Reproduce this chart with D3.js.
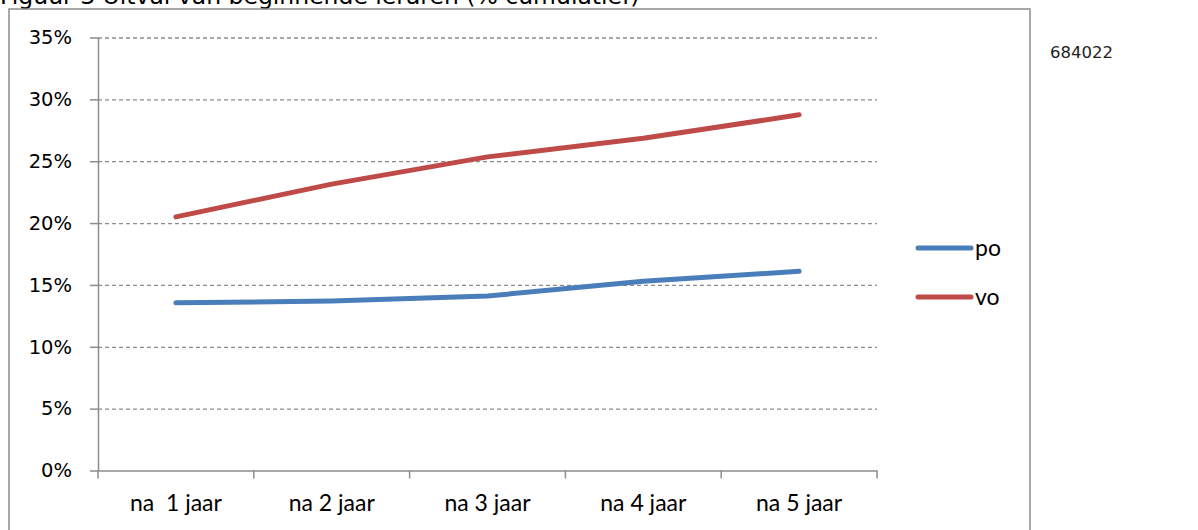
<!DOCTYPE html>
<html>
<head>
<meta charset="utf-8">
<script src="https://cdn.jsdelivr.net/npm/d3@7"></script>
<style>
  body { margin: 0; background: #fff; }
  svg { display: block; }
  .grid line { stroke: #8c8c8c; stroke-dasharray: 4,3; stroke-width: 1.3; }
  .grid path { display: none; }
  .axis path, .axis line { stroke: #8c8c8c; stroke-width: 1.5; }
  .y-axis text { font-family: "DejaVu Sans", sans-serif; font-size: 19.5px; fill: #000; }
  .x-axis text { font-family: Lato, sans-serif; font-size: 23px; fill: #000; white-space: pre; }
  .legend text { font-family: Lato, sans-serif; font-size: 23px; fill: #000; }
</style>
</head>
<body>
<div id="chart"></div>
<script>
// chart data
var categories = ["na  1 jaar", "na 2 jaar", "na 3 jaar", "na 4 jaar", "na 5 jaar"];
var poValues = [13.55, 13.7, 14.1, 15.3, 16.1];
var voValues = [20.5, 23.15, 25.35, 26.85, 28.75];
var seriesNames = ["po", "vo"];
var yTicks = [0, 5, 10, 15, 20, 25, 30, 35];

var svgWidth = 1198;
var svgHeight = 530;

var margin = { top: 37.5, left: 98, right: 321, bottom: 59.5 };
var width = svgWidth - margin.left - margin.right;
var height = svgHeight - margin.top - margin.bottom;

var svg = d3.select("#chart")
  .append("svg")
  .attr("width", svgWidth)
  .attr("height", svgHeight);

// title, mostly cut off at the top edge
svg.append("text")
  .attr("x", 0)
  .attr("y", 4)
  .attr("font-family", "DejaVu Sans, sans-serif")
  .attr("font-size", 23.5)
  .text("Figuur 3 Uitval van beginnende leraren (% cumulatief)");

// outer frame
svg.append("rect")
  .attr("x", 9)
  .attr("y", 9)
  .attr("width", 1021)
  .attr("height", 540)
  .attr("fill", "none")
  .attr("stroke", "#8c8c8c")
  .attr("stroke-width", 1.5);

svg.append("text")
  .attr("x", 1050)
  .attr("y", 58)
  .attr("font-family", "DejaVu Sans, sans-serif")
  .attr("font-size", 16.5)
  .attr("fill", "#222")
  .text("684022");

var chartGroup = svg.append("g")
  .attr("transform", `translate(${margin.left}, ${margin.top})`);

var xScale = d3.scaleBand()
  .domain(categories)
  .range([0, width]);

var yScale = d3.scaleLinear()
  .domain([0, 35])
  .range([height, 0]);

// dashed gridlines
chartGroup.append("g")
  .attr("class", "grid")
  .call(d3.axisLeft(yScale).tickValues(yTicks.slice(1)).tickSize(-width).tickFormat(""));

// y axis
chartGroup.append("g")
  .attr("class", "axis y-axis")
  .call(d3.axisLeft(yScale).tickValues(yTicks).tickSize(8).tickSizeOuter(0).tickPadding(18)
    .tickFormat(d => d + "%"));

// x axis, ticks at the category boundaries
var xAxis = chartGroup.append("g")
  .attr("class", "axis x-axis")
  .attr("transform", `translate(0, ${height})`)
  .call(d3.axisBottom(xScale).tickSize(0).tickPadding(24));

var bounds = categories.map(c => xScale(c)).concat([width]);
xAxis.selectAll(".bound")
  .data(bounds)
  .enter()
  .append("line")
  .attr("class", "bound")
  .attr("x1", d => d)
  .attr("x2", d => d)
  .attr("y1", 0)
  .attr("y2", 8);

var colors = { po: "#4a7ebb", vo: "#be4b48" };
var seriesData = { po: poValues, vo: voValues };

var line = d3.line()
  .x((d, i) => xScale(categories[i]) + xScale.bandwidth() / 2)
  .y(d => yScale(d));

seriesNames.forEach(function(name) {
  chartGroup.append("path")
    .datum(seriesData[name])
    .attr("fill", "none")
    .attr("stroke", colors[name])
    .attr("stroke-width", 5)
    .attr("stroke-linecap", "round")
    .attr("stroke-linejoin", "round")
    .attr("d", line);
});

// legend
var legend = svg.append("g").attr("class", "legend");
seriesNames.forEach(function(name, i) {
  var y = 248 + i * 49;
  legend.append("line")
    .attr("x1", 918)
    .attr("x2", 971)
    .attr("y1", y)
    .attr("y2", y)
    .attr("stroke", colors[name])
    .attr("stroke-width", 5)
    .attr("stroke-linecap", "round");
  legend.append("text")
    .attr("x", 975)
    .attr("y", y + 8)
    .text(name);
});
</script>
</body>
</html>
